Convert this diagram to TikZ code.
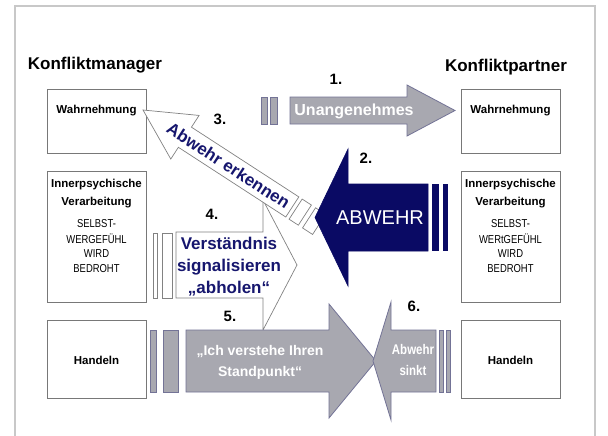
\documentclass[tikz,border=0pt]{standalone}
\usepackage{fontspec}
\setmainfont{Liberation Sans}
\newfontfamily\narrowfont[FakeStretch=0.82]{Liberation Sans}
\definecolor{framec}{RGB}{200,200,200}
\definecolor{boxc}{RGB}{120,120,120}
\definecolor{navyA}{RGB}{10,10,100}
\definecolor{navyT}{RGB}{22,22,110}
\definecolor{greyF}{RGB}{168,168,176}
\definecolor{greyL}{RGB}{115,115,150}
\definecolor{wline}{RGB}{130,130,130}
\tikzset{
  boxst/.style={draw=boxc, line width=0.8pt, fill=white},
  titlest/.style={font=\fontsize{17}{20}\selectfont\bfseries},
  numst/.style={font=\fontsize{15}{18}\selectfont\bfseries},
  boxbold/.style={font=\fontsize{11.5}{14}\selectfont\bfseries},
  boxcaps/.style={font=\fontsize{11.5}{13}\narrowfont},
  greyarrow/.style={fill=greyF, draw=greyL, line width=0.8pt},
  navyarrow/.style={fill=navyA, draw=navyA, line width=0.6pt},
  whitearrow/.style={fill=white, draw=wline, line width=0.7pt},
  navytext/.style={text=navyT, font=\fontsize{17}{20}\selectfont\bfseries},
}
\begin{document}
\begin{tikzpicture}[x=1pt,y=-1pt]
\useasboundingbox (0,0) rectangle (608,436);
\fill[white] (0,0) rectangle (608,436);
\draw[framec, line width=1.5pt] (15,436) -- (15,6) -- (595,6) -- (595,436);

% titles
\node[titlest] (tl) at (95,65) {Konfliktmanager};
\node[titlest] (tr) at (506,67) {Konfliktpartner};

% left boxes
\node[boxst, anchor=north west, minimum width=99pt, minimum height=64pt] (bl1) at (47,89) {};
\node[boxst, anchor=north west, minimum width=99pt, minimum height=131pt] (bl2) at (47,171) {};
\node[boxst, anchor=north west, minimum width=99pt, minimum height=78pt] (bl3) at (47,320) {};
% right boxes
\node[boxst, anchor=north west, minimum width=99pt, minimum height=64pt] (br1) at (461,89) {};
\node[boxst, anchor=north west, minimum width=99pt, minimum height=131pt] (br2) at (461,171) {};
\node[boxst, anchor=north west, minimum width=99pt, minimum height=78pt] (br3) at (461,320) {};

\node[boxbold] (wl) at (96.5,111) {Wahrnehmung};
\node[boxbold] (wr) at (510.5,111) {Wahrnehmung};
\node[boxbold] (il1) at (96.5,185) {Innerpsychische};
\node[boxbold] (il2) at (96.5,203) {Verarbeitung};
\node[boxcaps] (il3) at (96.5,224) {SELBST-};
\node[boxcaps] (il4) at (96.5,239) {WERGEFÜHL};
\node[boxcaps] (il5) at (96.5,254) {WIRD};
\node[boxcaps] (il6) at (96.5,269) {BEDROHT};
\node[boxbold] (ir1) at (510.5,185) {Innerpsychische};
\node[boxbold] (ir2) at (510.5,203) {Verarbeitung};
\node[boxcaps] (ir3) at (510.5,224) {SELBST-};
\node[boxcaps] (ir4) at (510.5,239) {WERtGEFÜHL};
\node[boxcaps] (ir5) at (510.5,254) {WIRD};
\node[boxcaps] (ir6) at (510.5,269) {BEDROHT};
\node[boxbold] (hl) at (96.5,360) {Handeln};
\node[boxbold] (hr) at (510.5,360) {Handeln};

% arrow 4 (white, right)
\draw[whitearrow] (153,233) rectangle (157,298);
\draw[whitearrow] (162,233) rectangle (172,298);
\draw[whitearrow] (176,232) -- (263,232) -- (263,200) -- (297,265) -- (263,330) -- (263,298) -- (176,298) -- cycle;
\node[navytext, align=center] (t4) at (229,267) {Verständnis\\[2pt]signalisieren\\[2pt]„abholen“};
\node[numst] (n4) at (212,214) {4.};

% arrow 3 (white, diagonal)
\begin{scope}[shift={(143,110)}, rotate=-33]
  \draw[whitearrow] (0,0) -- (50,26) -- (50,12) -- (178,12) -- (178,-12) -- (50,-12) -- (50,-26) -- cycle;
  \draw[whitearrow] (182,-12) rectangle (193,12);
  \draw[whitearrow] (198,-12) rectangle (210,12);
  \node[navytext, rotate=-33] (t3) at (102,0) {Abwehr erkennen};
\end{scope}
\node[numst] (n3) at (220,119) {3.};

% arrow 2 (navy, left)
\draw[navyarrow] (315,217.5) -- (348,149) -- (348,184) -- (428,184) -- (428,251) -- (348,251) -- (348,286) -- cycle;
\fill[navyA] (432,184) rectangle (439,251);
\fill[navyA] (443,184) rectangle (448,251);
\node[text=white, font=\fontsize{20}{24}\selectfont] (t2) at (380,218) {ABWEHR};
\node[numst] (n2) at (366,158) {2.};

% arrow 1 (grey, right)
\draw[greyarrow] (261,97) rectangle (267,124);
\draw[greyarrow] (270,97) rectangle (277,124);
\draw[greyarrow] (290,97) -- (407,97) -- (407,85) -- (455,110.5) -- (407,136) -- (407,124) -- (290,124) -- cycle;
\node[text=white, font=\fontsize{16}{19}\selectfont\bfseries] (t1) at (354,111) {Unangenehmes};
\node[numst] (n1) at (336,79) {1.};

% arrow 5 (grey, right)
\draw[greyarrow] (150,330) rectangle (156,392);
\draw[greyarrow] (163,330) rectangle (178,392);
\draw[greyarrow] (186,330) -- (329,330) -- (329,304) -- (376,361) -- (329,418) -- (329,392) -- (186,392) -- cycle;
\node[text=white, font=\fontsize{14}{21}\selectfont\bfseries, align=center] (t5) at (260,362) {„Ich verstehe Ihren\\Standpunkt“};
\node[numst] (n5) at (230,316) {5.};

% arrow 6 (grey, left)
\draw[greyarrow] (373,361) -- (391,302) -- (391,330) -- (436,330) -- (436,392) -- (391,392) -- (391,420) -- cycle;
\draw[greyarrow] (439,330) rectangle (443,392);
\draw[greyarrow] (446,330) rectangle (450,392);
\node[text=white, font=\fontsize{14}{21}\narrowfont\bfseries, align=center] (t6) at (413,360) {Abwehr\\sinkt};
\node[numst] (n6) at (414,306) {6.};
\end{tikzpicture}
\end{document}
